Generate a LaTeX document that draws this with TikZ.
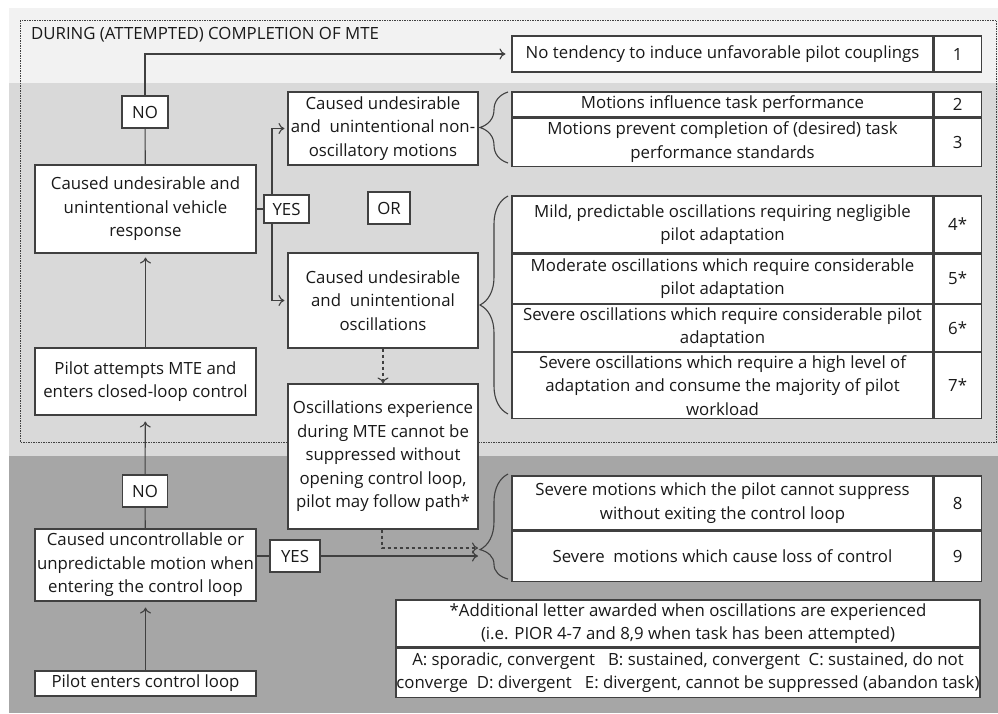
\documentclass[tikz,border=0pt]{standalone}
\usepackage{fontspec}
\setmainfont{Open Sans}
\usetikzlibrary{positioning, arrows.meta, decorations.pathreplacing}
\definecolor{bandtop}{HTML}{F2F2F2}
\definecolor{bandmid}{HTML}{D9D9D9}
\definecolor{bandlow}{HTML}{A6A6A6}
\definecolor{ink}{HTML}{404040}

\begin{document}
\begin{tikzpicture}[x=1pt, y=-1pt]
    \tikzstyle{box}=[draw=ink, fill=white, line width=1.1pt, inner sep=0pt, align=center, text=black!90, font=\fontsize{16.8}{23.5}\selectfont]
    \tikzstyle{txt}=[box, minimum width=421pt]
    \tikzstyle{num}=[box, minimum width=47pt]
    \tikzstyle{link}=[ink, line width=1.1pt]
    \tikzstyle{curly}=[link, decorate, decoration={brace, amplitude=28pt}]
    \tikzset{>={To[length=6pt, width=11pt]}}

    \useasboundingbox (0,0) rectangle (998,713);
    \fill[bandtop] (9,8) rectangle (998,83);
    \fill[bandmid] (9,83) rectangle (998,456);
    \fill[bandlow] (9,456) rectangle (998,713);
    \draw[ink, line width=0.6pt, dash pattern=on 1.5pt off 1pt] (20,20) rectangle (996,442);
    \node[anchor=west, text=black!90, inner sep=0pt, font=\fontsize{16.8}{23.5}\selectfont] (title) at (31,35) {DURING (ATTEMPTED) COMPLETION OF MTE};

    \node[box, minimum width=221pt, minimum height=88pt] (resp) at (145.5,209) {Caused undesirable and\\unintentional vehicle\\response};
    \node[box, minimum width=46pt, minimum height=32pt] (no1) at (145,112) {NO};
    \node[box, minimum width=45pt, minimum height=28pt] (yes1) at (286.5,209) {YES};
    \node[box, minimum width=190pt, minimum height=73pt] (nonosc) at (383,128.5) {Caused undesirable\\and\ \ unintentional non-\\oscillatory motions};
    \node[box, minimum width=42pt, minimum height=32pt] (orbox) at (389,208) {OR};
    \node[box, minimum width=190pt, minimum height=95pt] (osc) at (383,300.5) {Caused undesirable\\and\ \ unintentional\\oscillations};
    \node[box, minimum width=190pt, minimum height=145pt] (supp) at (383,456.5) {Oscillations experience\\during MTE cannot be\\suppressed without\\opening control loop,\\pilot may follow path*};
    \node[box, minimum width=221pt, minimum height=67pt] (attempt) at (145.5,381.5) {Pilot attempts MTE and\\enters closed-loop control};
    \node[box, minimum width=45pt, minimum height=32pt] (no2) at (145,491) {NO};
    \node[box, minimum width=221pt, minimum height=72pt] (unc) at (145.5,565) {Caused uncontrollable or\\unpredictable motion when\\entering the control loop};
    \node[box, minimum width=50pt, minimum height=32pt] (yes2) at (295,556) {YES};
    \node[box, minimum width=221pt, minimum height=25pt] (enter) at (145.5,683.5) {Pilot enters control loop};

    \node[txt, minimum height=36pt] (r1) at (722.5,54) {No tendency to induce unfavorable pilot couplings};
    \node[num, minimum height=36pt, right=0pt of r1] (n1) {1};
    \node[txt, minimum height=25pt] (r2) at (722.5,104.5) {Motions influence task performance};
    \node[num, minimum height=25pt, right=0pt of r2] (n2) {2};
    \node[txt, minimum height=48pt, below=0pt of r2] (r3) {Motions prevent completion of (desired) task\\performance standards};
    \node[num, minimum height=48pt, right=0pt of r3] (n3) {3};
    \node[txt, minimum height=57pt] (r4) at (722.5,224.5) {Mild, predictable oscillations requiring negligible\\pilot adaptation};
    \node[num, minimum height=57pt, right=0pt of r4] (n4) {4*};
    \node[txt, minimum height=49pt, below=0pt of r4] (r5) {Moderate oscillations which require considerable\\pilot adaptation};
    \node[num, minimum height=49pt, right=0pt of r5] (n5) {5*};
    \node[txt, minimum height=47pt, below=0pt of r5] (r6) {Severe oscillations which require considerable pilot\\adaptation};
    \node[num, minimum height=47pt, right=0pt of r6] (n6) {6*};
    \node[txt, minimum height=66pt, below=0pt of r6] (r7) {Severe oscillations which require a high level of\\adaptation and consume the majority of pilot\\workload};
    \node[num, minimum height=66pt, right=0pt of r7] (n7) {7*};
    \node[txt, minimum height=54pt] (r8) at (722.5,503) {Severe motions which the pilot cannot suppress\\without exiting the control loop};
    \node[num, minimum height=54pt, right=0pt of r8] (n8) {8};
    \node[txt, minimum height=50pt, below=0pt of r8] (r9) {Severe\ \ motions which cause loss of control};
    \node[num, minimum height=50pt, right=0pt of r9] (n9) {9};

    \node[box, minimum width=584pt, minimum height=47pt] (note) at (688,623.5) {*Additional letter awarded when oscillations are experienced\\(i.e. PIOR 4-7 and 8,9 when task has been attempted)};
    \node[box, minimum width=584pt, minimum height=49pt, below=0pt of note] (key) {A: sporadic, convergent\ \ \ B: sustained, convergent\ \ C: sustained, do not\\converge\ \ D: divergent\ \ \ E: divergent, cannot be suppressed (abandon task)};

    \coordinate (fork) at (272,0);
    \coordinate (drop) at (382,0);
    \coordinate (tipa) at (478,556);
    \coordinate (tipb) at (478,548);

    \draw[link] (resp) -- (no1);
    \draw[link, ->, shorten >=6pt] (no1) |- (r1);
    \draw[link] (resp) -- (yes1);
    \draw[link, ->, shorten >=3pt] (yes1.north -| fork) |- (nonosc);
    \draw[link, ->, shorten >=3pt] (yes1.south -| fork) |- (osc);
    \draw[link, ->, shorten >=4pt] (attempt) -- (resp);
    \draw[link, ->, shorten >=6pt] (no2) -- (attempt);
    \draw[link] (unc) -- (no2);
    \draw[link, ->, shorten >=6pt] (enter) -- (unc);
    \draw[link] (unc.east |- yes2) -- (yes2);
    \draw[link, ->] (yes2) -- (tipa);
    \draw[link, ->, dashed] (osc) -- (supp);
    \draw[link, ->, dashed] (supp.south -| drop) |- (tipb);

    \draw[curly] (508,163) -- (508,92);
    \draw[curly] (508,414) -- (508,196);
    \draw[curly, decoration={aspect=0.28}] (508,579) -- (508,474);
\end{tikzpicture}
\end{document}
